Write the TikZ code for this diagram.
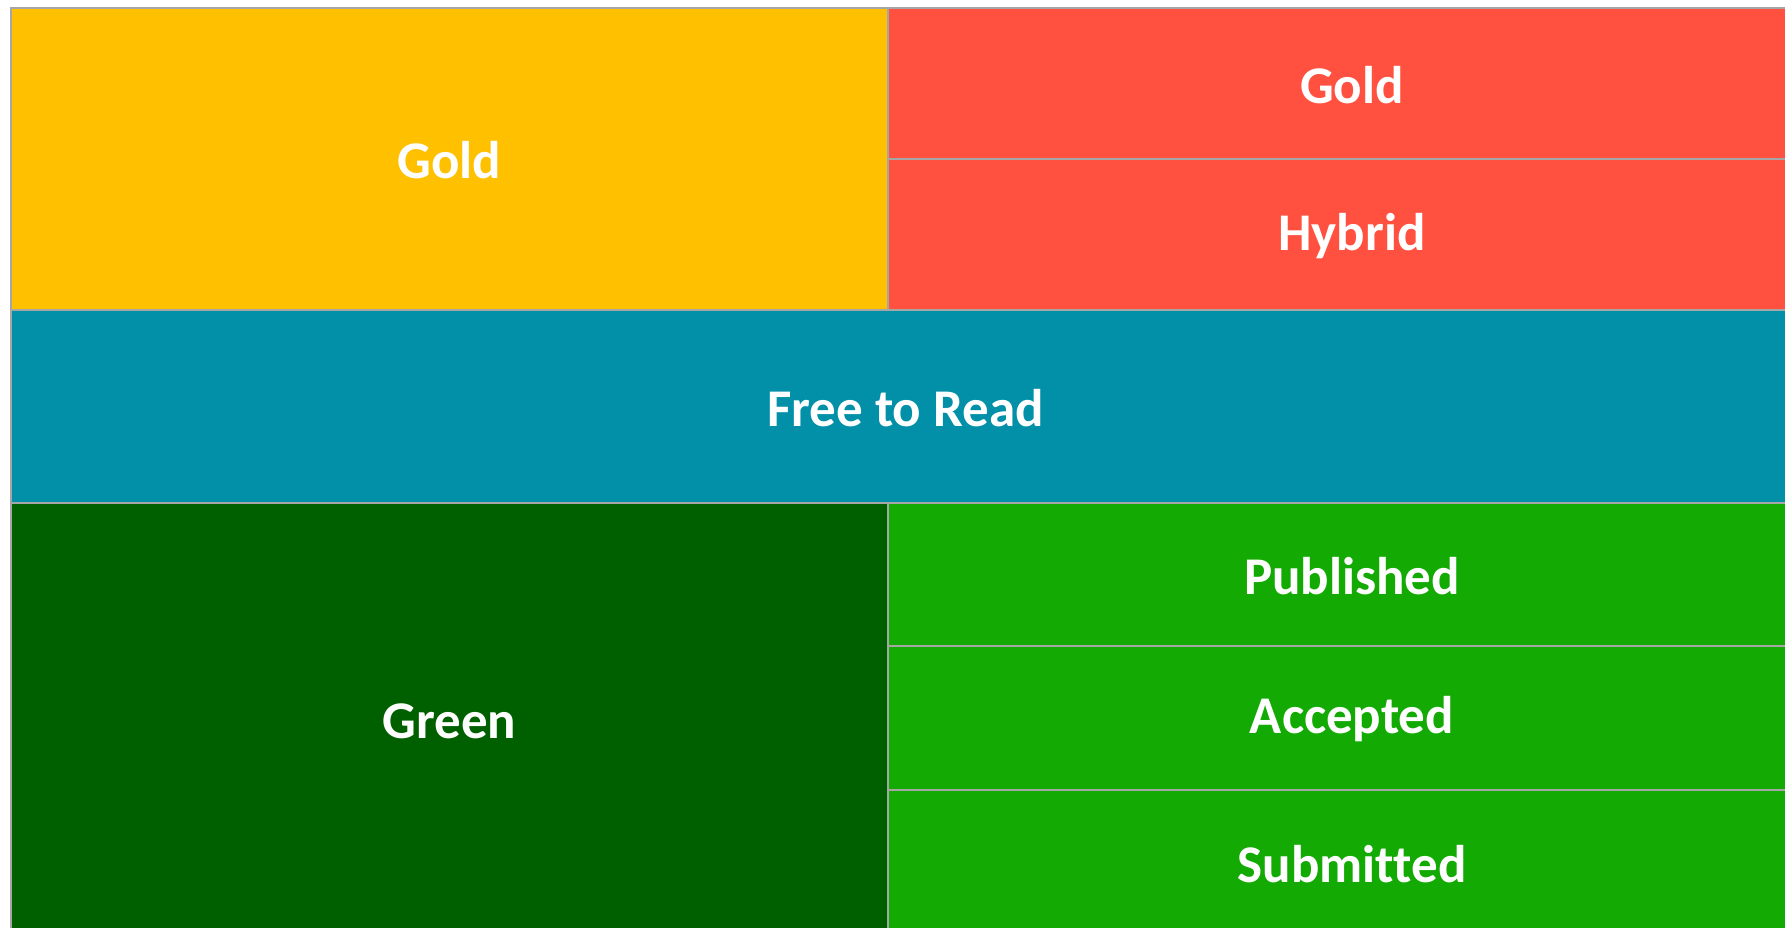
\documentclass[tikz,border=0pt]{standalone}
\usepackage{fontspec}
\setmainfont{Carlito}[Ligatures=NoCommon]
\usepackage{xcolor}
\usepackage{tikz}
\usetikzlibrary{calc}

\definecolor{goldbox}{HTML}{FFC000}
\definecolor{redbox}{HTML}{FF5040}
\definecolor{tealbox}{HTML}{0190A8}
\definecolor{darkgreen}{HTML}{006000}
\definecolor{lightgreen}{HTML}{14AA04}
\definecolor{edgegray}{HTML}{A6A6A6}

\begin{document}
\begin{tikzpicture}[x=1pt,y=-1pt,
  cell/.style={draw=edgegray,line width=1.5pt},
  lbl/.style={text=white,yshift=-1.5pt,font=\bfseries\fontsize{53}{64}\selectfont}]
\useasboundingbox (0,0) rectangle (1785,928);
\clip (0,0) rectangle (1785,928);

\path
 (11,8)     coordinate (TL)
 (888,8)    coordinate (TM)
 (1816,8)   coordinate (TR)
 (888,159)  coordinate (RS)
 (1816,159) coordinate (RSR)
 (11,310)   coordinate (GL)
 (888,310)  coordinate (GM)
 (1816,310) coordinate (GR)
 (11,503)   coordinate (FL)
 (888,503)  coordinate (FM)
 (1816,503) coordinate (FR)
 (888,646)  coordinate (PS)
 (1816,646) coordinate (PSR)
 (888,790)  coordinate (AS)
 (1816,790) coordinate (ASR)
 (11,936)   coordinate (BL)
 (888,936)  coordinate (BM)
 (1816,936) coordinate (BR)
;

% open access boxes
\fill[goldbox]    (TL) rectangle (GM);
\fill[redbox]     (TM) rectangle (GR);
\fill[tealbox]    (GL) rectangle (FR);
\fill[darkgreen]  (FL) rectangle (BM);
\fill[lightgreen] (FM) rectangle (BR);

\draw[cell]
   (TL) rectangle (BR)
   (TM) -- (GM)
   (RS) -- (RSR)
   (GL) -- (GR)
   (FL) -- (FR)
   (FM) -- (BM)
   (PS) -- (PSR)
   (AS) -- (ASR)
;

\node[lbl] (gold)      at ($(TL)!0.5!(GM)$)  {Gold};
\node[lbl] (goldpub)   at ($(TM)!0.5!(RSR)$) {Gold};
\node[lbl] (hybrid)    at ($(RS)!0.5!(GR)$)  {Hybrid};
\node[lbl,xshift=-8pt] (free) at ($(GL)!0.5!(FR)$) {Free to Read};
\node[lbl] (green)     at ($(FL)!0.5!(BM)$)  {Green};
\node[lbl] (published) at ($(FM)!0.5!(PSR)$) {Published};
\node[lbl] (accepted)  at ($(PS)!0.5!(ASR)$) {Accepted};
\node[lbl] (submitted) at ($(AS)!0.5!(BR)$)  {Submitted};
\end{tikzpicture}
\end{document}
